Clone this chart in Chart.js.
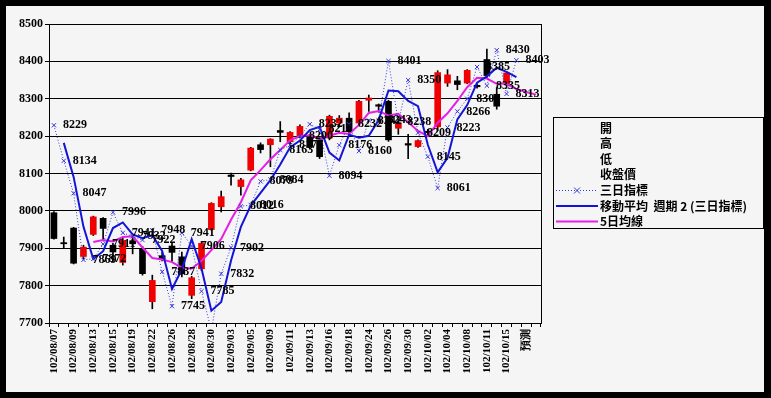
<!DOCTYPE html>
<html>
<head>
<meta charset="utf-8">
<script src="https://cdn.jsdelivr.net/npm/chart.js@4.4.0/dist/chart.umd.min.js"></script>
<style>
  html, body { margin: 0; padding: 0; background: #000; }
  canvas { display: block; }
</style>
</head>
<body>
<canvas id="c" width="771" height="398"></canvas>
<script>
const dates = ['102/08/07','102/08/08','102/08/09','102/08/12','102/08/13','102/08/14','102/08/15','102/08/16',
  '102/08/19','102/08/20','102/08/22','102/08/23','102/08/26','102/08/27','102/08/28','102/08/29','102/08/30',
  '102/09/02','102/09/03','102/09/04','102/09/05','102/09/06','102/09/09','102/09/10','102/09/11','102/09/12',
  '102/09/13','102/09/14','102/09/16','102/09/17','102/09/18','102/09/23','102/09/24','102/09/25','102/09/26',
  '102/09/27','102/09/30','102/10/01','102/10/02','102/10/03','102/10/04','102/10/07','102/10/08','102/10/09',
  '102/10/11','102/10/14','102/10/15','102/10/16','預測','']

const opens  = [7995,7915,7954,7878,7937,7980,7908,7862,7920,7899,7757,7880,7906,7877,7774,7845,7950,8011,8096,8065,
  8109,8177,8177,8215,8185,8199,8199,8190,8195,8235,8248,8235,8296,8284,8293,8221,8180,8172,8213,8225,
  8342,8348,8342,8336,8405,8312,8340,null,null,null]
const highs  = [7998,7930,7956,7908,7986,7982,7913,7928,7930,7905,7828,7890,7913,7890,7825,7918,8022,8053,8101,8087,
  8170,8182,8193,8239,8212,8230,8205,8195,8256,8255,8262,8296,8310,8286,8296,8245,8205,8190,8218,8375,
  8378,8360,8378,8340,8433,8330,8372,null,null,null]
const lows   = [7924,7899,7858,7872,7934,7920,7863,7855,7885,7828,7738,7866,7865,7823,7765,7840,7948,7997,8069,8042,
  8107,8155,8118,8185,8180,8195,8165,8140,8190,8225,8200,8230,8266,8264,8186,8205,8140,8170,8200,8215,
  8333,8324,8340,8328,8355,8272,8335,null,null,null]
const closes = [7926,7912,7860,7903,7984,7953,7890,7921,7912,7832,7814,7871,7889,7832,7821,7913,8020,8038,8092,8083,
  8168,8164,8192,8210,8210,8226,8172,8145,8253,8248,8212,8293,8302,8280,8190,8235,8176,8188,8209,8370,
  8364,8338,8376,8332,8362,8280,8369,null,null,null]

// 三日指標
const index3 = [8229,8134,8047,7869,7872,7911,7996,7941,7932,7922,7948,7837,7745,7941,7906,7785,7680,7832,7902,8012,
  8016,8079,8084,8163,8176,8200,8232,8218,8094,8176,8232,8160,8242,8243,8401,8238,8350,8209,8145,8061,
  8223,8266,8300,8385,8335,8430,8313,8403,null,null]
// 移動平均 週期 2 (三日指標)
const ma2 = [null,8182,8091,7958,7871,7892,7954,7969,7937,7927,7935,7893,7791,7843,7924,7846,7733,7756,7867,7957,
  8014,8048,8082,8124,8170,8188,8216,8225,8156,8135,8204,8196,8201,8243,8322,8320,8294,8280,8177,8103,
  8142,8245,8283,8343,8360,8383,8372,8358,null,null]
// 5日均線
const ma5 = [null,null,null,null,7917,7922,7918,7930,7932,7902,7874,7870,7863,7848,7846,7866,7895,7925,7976,8023,
  8082,8109,8138,8163,8189,8200,8202,8193,8201,8209,8206,8230,8262,8267,8255,8260,8237,8214,8200,8236,
  8261,8294,8331,8356,8354,8340,8340,8326,8318,8311]

const yTicks = [7700, 7800, 7900, 8000, 8100, 8200, 8300, 8400, 8500]

const numFont = { family: 'Liberation Serif', size: 12, weight: 'bold' }
const RED = '#f00000'
const BLUE = '#1414d8'
const DOT_BLUE = '#3838e0'
const MAGENTA = '#e61ee6'

const frame = {
  id: 'frame',
  beforeDraw(chart) {
    const ctx = chart.ctx
    ctx.save()
    ctx.fillStyle = '#000'
    ctx.fillRect(0, 0, chart.width, chart.height)
    ctx.fillStyle = '#f5f5f5'
    ctx.fillRect(6, 6, 758, 386)
    ctx.restore()
  },
  beforeDatasetsDraw(chart) {
    const a = chart.chartArea
    const ctx = chart.ctx
    ctx.save()
    ctx.strokeStyle = '#000'
    ctx.lineWidth = 1
    ctx.beginPath()
    ctx.moveTo(Math.round(a.right) + 0.5, a.top)
    ctx.lineTo(Math.round(a.right) + 0.5, a.bottom)
    ctx.stroke()
    ctx.restore()
  },
  afterDatasetsDraw(chart) {
    const ctx = chart.ctx
    const a = chart.chartArea
    const meta = chart.getDatasetMeta(2)
    ctx.save()
    ctx.font = 'bold 12px "Liberation Serif"'
    ctx.fillStyle = '#000'
    ctx.textBaseline = 'middle'
    meta.data.forEach((pt, i) => {
      const v = index3[i]
      if (v == null || pt.y < a.top || pt.y > a.bottom) return
      ctx.fillText(String(v), pt.x + 9, pt.y)
    })
    ctx.restore()
  },
  afterDraw(chart) {
    const ctx = chart.ctx
    ctx.save()
    ctx.strokeStyle = '#000'
    ctx.lineWidth = 1
    ctx.strokeRect(553.5, 117.5, 210, 111)
    ctx.font = 'bold 12px "Noto Sans CJK TC"'
    ctx.fillStyle = '#000'
    ctx.textBaseline = 'middle'
    const rows = ['開', '高', '低', '收盤價', '三日指標', '移動平均  週期 2 (三日指標)', '5日均線']
    const ys = [128, 143.5, 159, 174.5, 190, 206, 221.5]
    rows.forEach((t, i) => ctx.fillText(t, 600, ys[i]))
    // 三日指標 sample
    ctx.strokeStyle = DOT_BLUE
    ctx.setLineDash([1, 2])
    ctx.beginPath(); ctx.moveTo(556, 190.5); ctx.lineTo(598, 190.5); ctx.stroke()
    ctx.setLineDash([])
    ctx.beginPath()
    ctx.moveTo(574, 187.5); ctx.lineTo(580, 193.5)
    ctx.moveTo(580, 187.5); ctx.lineTo(574, 193.5)
    ctx.stroke()
    ctx.lineWidth = 2
    ctx.strokeStyle = BLUE
    ctx.beginPath(); ctx.moveTo(556, 206); ctx.lineTo(598, 206); ctx.stroke()
    ctx.strokeStyle = MAGENTA
    ctx.beginPath(); ctx.moveTo(556, 221.5); ctx.lineTo(598, 221.5); ctx.stroke()
    ctx.restore()
  }
}

new Chart(document.getElementById('c'), {
  data: {
    labels: dates,
    datasets: [
      {
        type: 'bar',
        label: '收盤價',
        data: opens.map((o, i) => o == null ? null : [o, closes[i]]),
        backgroundColor: opens.map((o, i) => closes[i] >= o ? RED : '#000'),
        barThickness: 6,
        minBarLength: 1,
        grouped: false,
        borderWidth: 0,
        order: 4
      },
      {
        type: 'bar',
        label: '高低',
        data: lows.map((l, i) => l == null ? null : [l, highs[i]]),
        backgroundColor: '#000',
        barThickness: 1,
        grouped: false,
        borderWidth: 0,
        order: 5
      },
      {
        type: 'line',
        label: '三日指標',
        data: index3,
        borderColor: DOT_BLUE,
        borderWidth: 1,
        borderDash: [1, 2],
        pointStyle: 'crossRot',
        pointRadius: 3,
        pointBorderColor: DOT_BLUE,
        pointBorderWidth: 1,
        tension: 0,
        clip: 0,
        order: 1
      },
      {
        type: 'line',
        label: '移動平均 週期 2 (三日指標)',
        data: ma2,
        borderColor: BLUE,
        borderWidth: 2,
        pointRadius: 0,
        tension: 0,
        clip: 0,
        order: 2
      },
      {
        type: 'line',
        label: '5日均線',
        data: ma5,
        borderColor: MAGENTA,
        borderWidth: 2,
        pointRadius: 0,
        tension: 0,
        clip: 0,
        order: 3
      }
    ]
  },
  options: {
    responsive: false,
    animation: false,
    devicePixelRatio: 1,
    layout: { padding: { left: 0, right: 230, top: 24, bottom: 0 } },
    plugins: { legend: { display: false }, tooltip: { enabled: false } },
    scales: {
      x: {
        type: 'category',
        offset: true,
        afterFit: s => { s.height = 75 },
        grid: { display: true, drawOnChartArea: false, offset: true, color: '#000', tickLength: 4 },
        border: { display: true, color: '#000' },
        ticks: {
          autoSkip: false,
          minRotation: 90,
          maxRotation: 90,
          padding: 2,
          color: '#000',
          font: { family: 'Liberation Serif', size: 11, weight: 'bold' },
          callback: (v, i) => i % 2 === 0 ? dates[i] : ''
        }
      },
      y: {
        min: yTicks[0],
        max: yTicks[yTicks.length - 1],
        afterFit: s => { s.width = 49 },
        afterBuildTicks: s => { s.ticks = yTicks.map(v => ({ value: v })) },
        grid: { color: '#000', tickLength: 4 },
        border: { display: true, color: '#000' },
        ticks: { color: '#000', font: numFont, padding: 2, callback: v => String(v) }
      }
    }
  },
  plugins: [frame]
})
</script>
</body>
</html>
